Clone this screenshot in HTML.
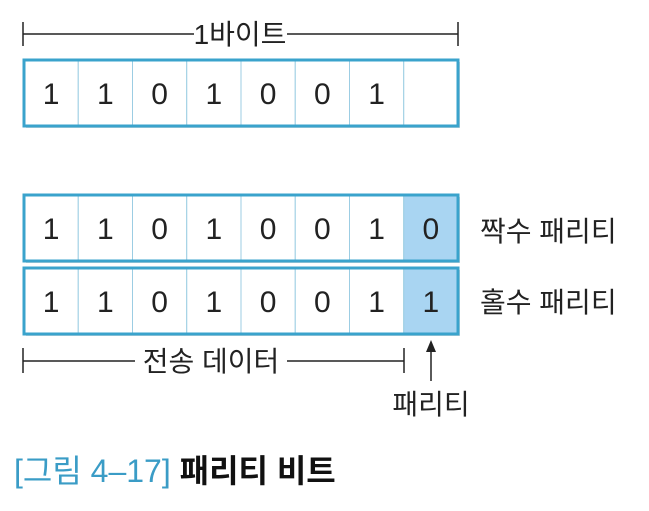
<!DOCTYPE html>
<html><head><meta charset="utf-8"><style>
body{margin:0;width:649px;height:506px;background:#fff;overflow:hidden;font-family:"Liberation Sans","Noto Sans CJK KR",sans-serif}
svg text{font-family:"Liberation Sans","Noto Sans CJK KR",sans-serif}
</style></head><body>
<svg width="649" height="506">
<g id="rows"></g>
<g stroke="#222" stroke-width="1.5">
<line x1="23" y1="22" x2="23" y2="46"/><line x1="458" y1="22" x2="458" y2="46"/>
<line x1="23" y1="34" x2="194" y2="34"/><line x1="287" y1="34" x2="458" y2="34"/>
</g>
<text x="240" y="44" font-size="28" text-anchor="middle" fill="#222">1바이트</text>
<text x="480" y="241" font-size="28" fill="#222">짝수 패리티</text>
<text x="480" y="312" font-size="28" fill="#222">홀수 패리티</text>
<g stroke="#222" stroke-width="1.5">
<line x1="23" y1="348" x2="23" y2="373"/><line x1="404" y1="348" x2="404" y2="373"/>
<line x1="23" y1="361" x2="135" y2="361"/><line x1="287" y1="361" x2="404" y2="361"/>
</g>
<text x="211" y="371" font-size="28" text-anchor="middle" fill="#222">전송 데이터</text>
<g>
<line x1="431" y1="348" x2="431" y2="381" stroke="#222" stroke-width="1.5"/>
<polygon points="431,340 426,352 436,352" fill="#222"/>
</g>
<text x="431" y="414" font-size="28" text-anchor="middle" fill="#222">패리티</text>
<text x="14" y="482" font-size="32"><tspan fill="#3a9cc6">[그림 4–17]</tspan><tspan fill="#111" font-weight="bold"> 패리티 비트</tspan></text>
</svg>
<script>
const rowTops=[60,195,268];
const rowBits=[["1","1","0","1","0","0","1",""],["1","1","0","1","0","0","1","0"],["1","1","0","1","0","0","1","1"]];
const rowNames=['byte-row','even-parity-row','odd-parity-row'];
const ns='http://www.w3.org/2000/svg';
const g=document.getElementById('rows');
const x0=24,x1=458,h=66,cw=(x1-x0)/8;
rowTops.forEach((y,r)=>{
  const grp=document.createElementNS(ns,'g');
  
  
  const sh=document.createElementNS(ns,'rect');
  sh.setAttribute('x',x0+2);sh.setAttribute('y',y+2);sh.setAttribute('width',x1-x0);sh.setAttribute('height',h);sh.setAttribute('fill','#cfd8dc');
  grp.appendChild(sh);
  rowBits[r].forEach((b,i)=>{
    const c=document.createElementNS(ns,'rect');
    
    
    c.setAttribute('x',x0+i*cw);c.setAttribute('y',y);c.setAttribute('width',cw);c.setAttribute('height',h);
    c.setAttribute('fill',(r>0&&i===7)?'#a9d5f2':'#fff');
    c.setAttribute('stroke','#9ccde3');c.setAttribute('stroke-width','1');
    grp.appendChild(c);
    const t=document.createElementNS(ns,'text');
    
    
    t.setAttribute('x',x0+i*cw+cw/2);t.setAttribute('y',y+h/2+11);
    t.setAttribute('font-size','30');t.setAttribute('text-anchor','middle');t.setAttribute('fill','#222');
    t.textContent=b;grp.appendChild(t);
  });
  const o=document.createElementNS(ns,'rect');
  o.setAttribute('x',x0);o.setAttribute('y',y);o.setAttribute('width',x1-x0);o.setAttribute('height',h);
  o.setAttribute('fill','none');o.setAttribute('stroke','#3aa3cc');o.setAttribute('stroke-width','3');
  grp.appendChild(o);
  g.appendChild(grp);
});
</script>
</body></html>
